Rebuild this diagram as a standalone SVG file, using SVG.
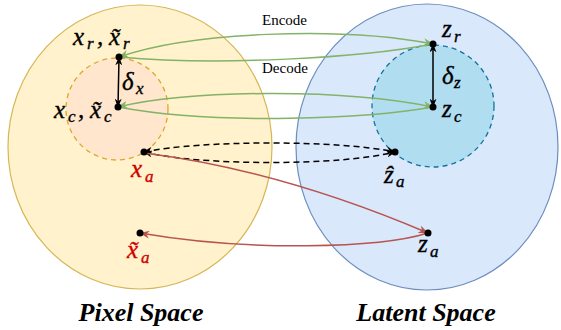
<svg xmlns="http://www.w3.org/2000/svg" width="561" height="330" viewBox="0 0 561 330">
  <style>
    .m { font-family: "Liberation Serif", "Times New Roman", serif; font-style: italic; font-size: 25px; fill: #000; stroke: #000; stroke-width: 0.35; }
    .s { font-size: 17px; }
    .red { fill: #d00000; stroke: #d00000; }
    .lbl { font-family: "Liberation Serif", "Times New Roman", serif; font-size: 15px; fill: #000; }
    .title { font-family: "Liberation Serif", "Times New Roman", serif; font-size: 26px; font-weight: bold; font-style: italic; fill: #000; text-anchor: middle; }
    .green { fill: none; stroke: #82b366; stroke-width: 1.5; }
    .redl { fill: none; stroke: #b85450; stroke-width: 1.5; }
    .dash { fill: none; stroke: #000; stroke-width: 1.5; stroke-dasharray: 6 4; }
    .delta { fill: none; stroke: #000; stroke-width: 1.5; }
    .pt { fill: #000; }
  </style>
  <defs>
    <marker id="arrG" viewBox="0 0 10 8" refX="9.5" refY="4" markerWidth="10" markerHeight="8" markerUnits="userSpaceOnUse" orient="auto-start-reverse">
      <path d="M0,0 L10,4 L0,8 L3,4 z" fill="#82b366"/>
    </marker>
    <marker id="arrR" viewBox="0 0 10 8" refX="9.5" refY="4" markerWidth="10" markerHeight="8" markerUnits="userSpaceOnUse" orient="auto-start-reverse">
      <path d="M0,0 L10,4 L0,8 L3,4 z" fill="#b85450"/>
    </marker>
    <marker id="arrK" viewBox="0 0 10 8" refX="9.5" refY="4" markerWidth="9" markerHeight="7" markerUnits="userSpaceOnUse" orient="auto-start-reverse">
      <path d="M0,0 L10,4 L0,8 L3,4 z" fill="#000"/>
    </marker>
  </defs>

  <!-- spaces -->
  <g id="pixel-space">
    <ellipse cx="140" cy="147" rx="132" ry="142" fill="#fff2cc" stroke="#d6b656" stroke-width="1.2"/>
    <text class="title" x="141" y="321">Pixel Space</text>
  </g>
  <g id="latent-space">
    <ellipse cx="427" cy="147" rx="131" ry="143" fill="#dae8fc" stroke="#6c8ebf" stroke-width="1.2"/>
    <text class="title" x="426" y="321">Latent Space</text>
  </g>
  <g id="pixel-neighborhood">
    <circle cx="117" cy="109" r="51" fill="#ffe6cc" stroke="#e0a52a" stroke-width="1.3" stroke-dasharray="5 4"/>
  </g>
  <g id="latent-neighborhood">
    <circle cx="433" cy="106" r="61" fill="#b1ddf0" stroke="#10739e" stroke-width="1.3" stroke-dasharray="5 4"/>
  </g>

  <!-- connectors -->
  <g id="connectors">
    <path class="green" d="M119,57 C190,32 340,26 433,44" marker-start="url(#arrG)" marker-end="url(#arrG)"/>
    <path class="green" d="M433,44 C360,58 220,66 119,57"/>
    <path class="green" d="M118,107 C190,90 340,88 433,107" marker-start="url(#arrG)" marker-end="url(#arrG)"/>
    <path class="green" d="M433,107 C370,118 220,126 118,107"/>
    <path class="dash" d="M144,152 C200,140 340,140 395,152" marker-start="url(#arrK)" marker-end="url(#arrK)"/>
    <path class="dash" d="M144,152 C200,166 340,166 395,152" marker-start="url(#arrK)" marker-end="url(#arrK)"/>
    <path class="redl" d="M144,153 Q280,170 428,233" marker-end="url(#arrR)"/>
    <path class="redl" d="M428,233 C380,248 250,252 140,233" marker-end="url(#arrR)"/>
    <path class="delta" d="M119,57 L118,107" marker-start="url(#arrK)" marker-end="url(#arrK)"/>
    <path class="delta" d="M433,44 L433,107" marker-start="url(#arrK)" marker-end="url(#arrK)"/>
    <text class="lbl" x="262" y="25">Encode</text>
    <text class="lbl" x="262" y="73">Decode</text>
    <text class="m" x="122" y="90">δ<tspan class="s" x="136" y="94">x</tspan></text>
    <text class="m" x="442" y="84">δ<tspan class="s" x="454" y="88">z</tspan></text>
  </g>

  <!-- points -->
  <g id="x-r">
    <circle class="pt" cx="119" cy="57" r="3.5"/>
    <text class="m" x="73" y="45">x<tspan class="s" x="87" y="49">r</tspan><tspan x="97" y="45">,</tspan><tspan x="109" y="45">x̃</tspan><tspan class="s" x="123" y="49">r</tspan></text>
  </g>
  <g id="x-c">
    <circle class="pt" cx="118" cy="107" r="3.5"/>
    <text class="m" x="54" y="118">x<tspan class="s" x="68" y="122">c</tspan><tspan x="78" y="118">,</tspan><tspan x="90" y="118">x̃</tspan><tspan class="s" x="104" y="122">c</tspan></text>
  </g>
  <g id="x-a">
    <circle class="pt" cx="144" cy="152" r="3.5"/>
    <text class="m red" x="131" y="177">x<tspan class="s" x="145" y="182">a</tspan></text>
  </g>
  <g id="x-tilde-a">
    <circle class="pt" cx="140" cy="233" r="3.5"/>
    <text class="m red" x="127" y="258">x̃<tspan class="s" x="141" y="263">a</tspan></text>
  </g>
  <g id="z-r">
    <circle class="pt" cx="433" cy="44" r="3.5"/>
    <text class="m" x="442" y="37">z<tspan class="s" x="454" y="42">r</tspan></text>
  </g>
  <g id="z-c">
    <circle class="pt" cx="433" cy="107" r="3.5"/>
    <text class="m" x="442" y="117">z<tspan class="s" x="454" y="122">c</tspan></text>
  </g>
  <g id="z-hat-a">
    <circle class="pt" cx="395" cy="152" r="3.5"/>
    <text class="m" x="384" y="183">ẑ<tspan class="s" x="396" y="187">a</tspan></text>
  </g>
  <g id="z-a">
    <circle class="pt" cx="428" cy="233" r="3.5"/>
    <text class="m" x="418" y="252">z<tspan class="s" x="430" y="257">a</tspan></text>
  </g>
</svg>
